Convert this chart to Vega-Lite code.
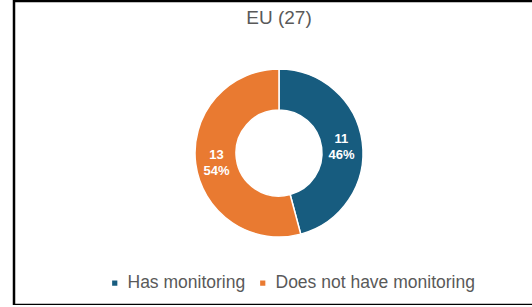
{
  "$schema": "https://vega.github.io/schema/vega-lite/v6.json",
  "width": 530,
  "height": 304,
  "autosize": {"type": "none"},
  "padding": {"left": 14, "top": 1, "right": 0, "bottom": 0},
  "background": "white",
  "view": {"stroke": "black", "strokeWidth": 2.5, "fill": "white"},
  "data": {"values": [
    {"category": "Has monitoring", "count": 11, "label": ["11", "46%"], "order": 1},
    {"category": "Does not have monitoring", "count": 13, "label": ["13", "54%"], "order": 2}
  ]},
  "layer": [
    {
      "mark": {"type": "arc", "innerRadius": 43, "outerRadius": 84, "stroke": "white", "strokeWidth": 1.5},
      "encoding": {
        "theta": {"field": "count", "type": "quantitative", "stack": true},
        "order": {"field": "order", "type": "quantitative"},
        "color": {
          "field": "category", "type": "nominal",
          "scale": {"domain": ["Has monitoring", "Does not have monitoring"], "range": ["#175C7F", "#E97A31"]},
          "legend": {"orient": "none", "legendX": 92, "legendY": 273, "direction": "horizontal", "title": null, "symbolType": "square", "symbolSize": 45, "labelFontSize": 17.5, "labelColor": "#595959", "labelFont": "Liberation Sans", "labelLimit": 400, "columnPadding": 8, "labelOffset": 4, "padding": 0}
        }
      }
    },
    {
      "mark": {"type": "text", "radius": 63, "fontSize": 13, "fontWeight": "bold", "font": "Liberation Sans", "lineHeight": 16, "dy": -6, "baseline": "middle", "color": "white"},
      "encoding": {
        "theta": {"field": "count", "type": "quantitative", "stack": true},
        "order": {"field": "order", "type": "quantitative"},
        "text": {"field": "label"},
        "detail": {"field": "category"}
      }
    },
    {
      "data": {"values": [{"title": "EU (27)"}]},
      "mark": {"type": "text", "fontSize": 19, "font": "Liberation Sans", "color": "#595959", "baseline": "alphabetic", "align": "center", "dy": -129},
      "encoding": {
        "text": {"field": "title"}
      }
    }
  ]
}
